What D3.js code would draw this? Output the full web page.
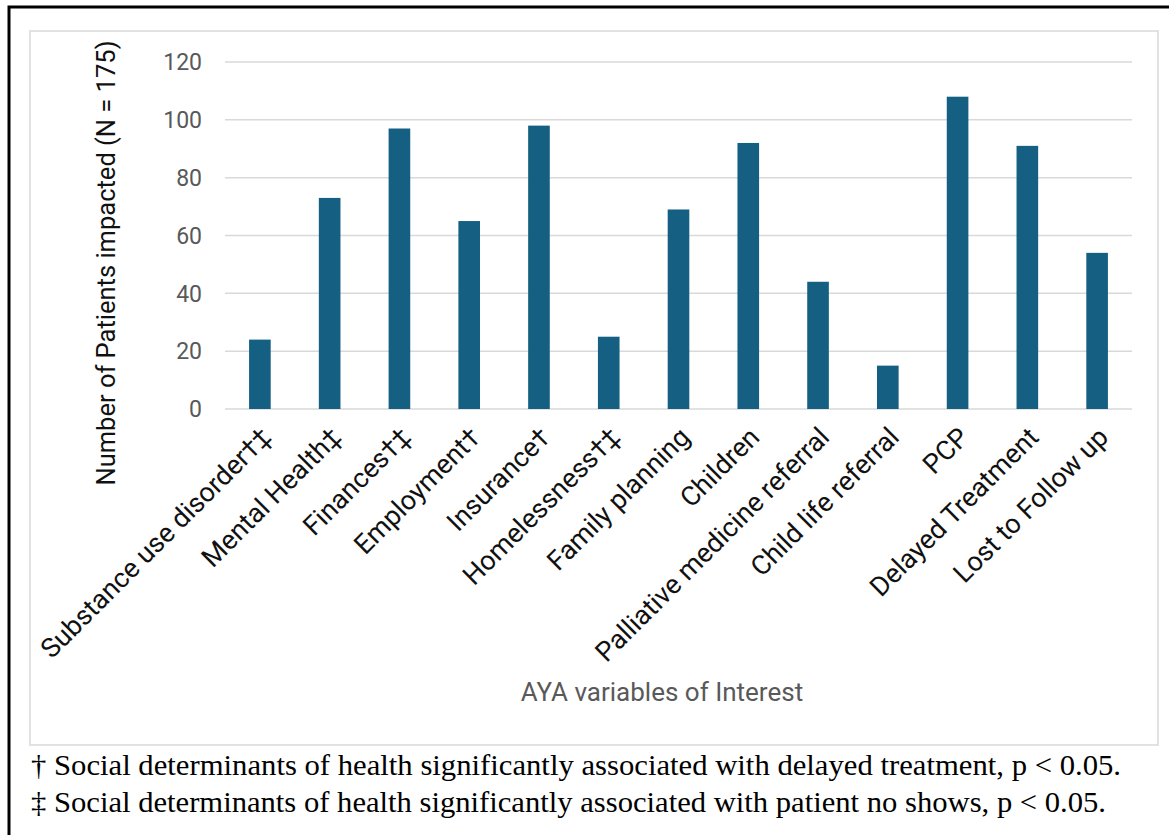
<!DOCTYPE html>
<html>
<head>
    <meta charset="utf-8">
    <title>AYA variables of interest</title>
    <style>
    body { margin: 0; background: #fff; }
    .grid line { stroke: #d9d9d9; stroke-width: 1.5; }
    .ylab text { fill: #595959; font-family: Roboto, sans-serif; font-size: 23px; }
    .xlab text { fill: #111; font-family: Roboto, sans-serif; font-size: 27px; }
    .note { font-family: "Liberation Serif", serif; font-size: 29px; fill: #000; }
    </style>
</head>
<body>
    <svg width="1169" height="835"></svg>
    <script src="https://d3js.org/d3.v7.min.js"></script>
    <script>
        var categories = ["Substance use disorder†‡", "Mental Health‡", "Finances†‡", "Employment†",
            "Insurance†", "Homelessness†‡", "Family planning", "Children", "Palliative medicine referral",
            "Child life referral", "PCP", "Delayed Treatment", "Lost to Follow up"];
        var values = [24, 73, 97, 65, 98, 25, 69, 92, 44, 15, 108, 91, 54];
        var yTicks = [0, 20, 40, 60, 80, 100, 120];
        var notes = ["† Social determinants of health significantly associated with delayed treatment, p < 0.05.",
            "‡ Social determinants of health significantly associated with patient no shows, p < 0.05."];

        var svg = d3.select("svg");

        // frame
        svg.append("path").attr("d", "M9,835 V7 H1169").attr("fill", "none")
            .attr("stroke", "#000").attr("stroke-width", 3);
        svg.append("rect").attr("x", 30).attr("y", 31).attr("width", 1128).attr("height", 714)
            .attr("fill", "none").attr("stroke", "#d9d9d9").attr("stroke-width", 1.5);

        let x = d3.scaleBand().domain(categories).range([225, 1132]).paddingInner(0.69).paddingOuter(0.345);
        let y = d3.scaleLinear().domain([0, 120]).range([409, 62]);

        svg.append("g").attr("class", "grid")
            .selectAll("line").data(yTicks).enter().append("line")
            .attr("x1", 225).attr("x2", 1132)
            .attr("y1", d => y(d)).attr("y2", d => y(d));

        svg.append("g").attr("class", "ylab")
            .selectAll("text").data(yTicks).enter().append("text")
            .attr("x", 202).attr("y", d => y(d)).attr("dy", "0.36em")
            .attr("text-anchor", "end").text(d => d);

        svg.append("g").selectAll("rect").data(values).enter().append("rect")
            .attr("x", (d, i) => x(categories[i]))
            .attr("y", d => y(d))
            .attr("width", x.bandwidth())
            .attr("height", d => y(0) - y(d))
            .attr("fill", "#156082");

        svg.append("g").attr("class", "xlab")
            .selectAll("text").data(categories).enter().append("text")
            .attr("transform", d => "translate(" + (x(d) + x.bandwidth() / 2 + 6) + ",432) rotate(-45)")
            .attr("text-anchor", "end").attr("dy", "0.36em").text(d => d);

        svg.append("text")
            .attr("transform", "translate(106,263) rotate(-90)")
            .attr("text-anchor", "middle").attr("dy", "0.36em")
            .attr("font-family", "Roboto, sans-serif").attr("font-size", 25.5).attr("fill", "#111")
            .text("Number of Patients impacted (N = 175)");

        svg.append("text")
            .attr("x", 662).attr("y", 692).attr("dy", "0.36em")
            .attr("text-anchor", "middle")
            .attr("font-family", "Roboto, sans-serif").attr("font-size", 26).attr("fill", "#595959")
            .text("AYA variables of Interest");

        var noteLen = [1090, 1075];
        svg.selectAll(".note").data(notes).enter().append("text")
            .attr("class", "note")
            .attr("x", 31).attr("y", (d, i) => 775 + i * 37)
            .attr("textLength", (d, i) => noteLen[i])
            .attr("lengthAdjust", "spacingAndGlyphs")
            .text(d => d);
    </script>
</body>
</html>
